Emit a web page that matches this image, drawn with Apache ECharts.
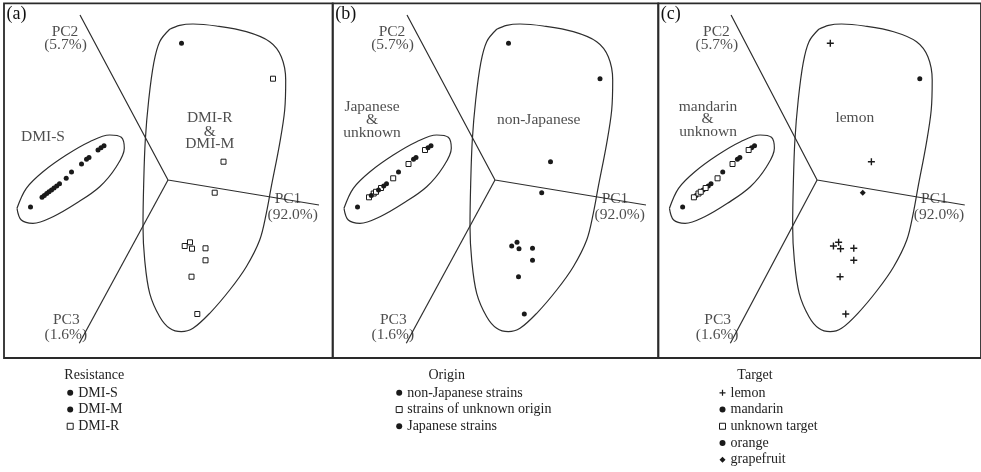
<!DOCTYPE html>
<html><head><meta charset="utf-8">
<script src="https://cdn.jsdelivr.net/npm/echarts@6/dist/echarts.min.js"></script>
<style>html,body{margin:0;padding:0;background:#fff}#c{width:981px;height:472px}</style>
</head><body><div id="c"></div>
<script>
// ---- DATA (PCA scores, arbitrary units, origin at axes junction, y up) ----
const pcScoreX = [13.5, 105, 55.5, 46.7, 16.7, 22, 24, 37.5, 37.5, 23.5, 29.3,
  -137.5, -126, -123.7, -121.3, -119, -116.5, -114, -111.3, -108.5, -101.8, -96.5, -86.5, -81.5, -79, -70, -67, -64];
const pcScoreY = [136.7, 101.3, 18.3, -12.7, -66, -62.3, -68.7, -68.3, -80.3, -96.7, -134,
  -27, -17.3, -15.5, -13.5, -11.8, -10, -8, -6, -3.8, 1.7, 8, 16, 20.8, 22.5, 30, 32.3, 34.3];
const resistanceOf = ['DMI-M','DMI-R','DMI-R','DMI-R','DMI-R','DMI-R','DMI-R','DMI-R','DMI-R','DMI-R','DMI-R',
  'DMI-S','DMI-S','DMI-S','DMI-S','DMI-S','DMI-S','DMI-S','DMI-S','DMI-S','DMI-S','DMI-S','DMI-S','DMI-S','DMI-S','DMI-S','DMI-S','DMI-S'];
const originOf = ['non-Japanese strains','non-Japanese strains','non-Japanese strains','non-Japanese strains','non-Japanese strains','non-Japanese strains','non-Japanese strains','non-Japanese strains','non-Japanese strains','non-Japanese strains','non-Japanese strains',
  'Japanese strains','strains of unknown origin','Japanese strains','strains of unknown origin','strains of unknown origin','Japanese strains','strains of unknown origin','Japanese strains','Japanese strains','strains of unknown origin','Japanese strains','strains of unknown origin','Japanese strains','Japanese strains','strains of unknown origin','Japanese strains','Japanese strains'];
const targetOf = ['lemon','orange','lemon','grapefruit','lemon','lemon','lemon','lemon','lemon','lemon','lemon',
  'mandarin','unknown target','mandarin','unknown target','unknown target','mandarin','unknown target','mandarin','mandarin','unknown target','mandarin','unknown target','mandarin','mandarin','unknown target','mandarin','mandarin'];

const resistanceClasses = ['DMI-S','DMI-M','DMI-R'];
const originClasses = ['non-Japanese strains','strains of unknown origin','Japanese strains'];
const targetClasses = ['lemon','mandarin','unknown target','orange','grapefruit'];

// principal component axes
const pcNames = ['PC1','PC2','PC3'];
const pcVariance = ['(92.0%)','(5.7%)','(1.6%)'];
const pcAxisEndX = [151, -88, -88.7];
const pcAxisEndY = [-25, 165, -163.3];

// group outlines
const blobX = [1.7,11.7,25,48.3,78.3,101.7,113.3,117.7,116.7,111.7,103.3,98.3,91.7,78.3,61.7,41.7,25,13.3,1.7,-8.3,-18.3,-23.3,-25,-24.3,-22.7,-19.3,-14.3,-8.3,1.7];
const blobY = [150.7,154.7,156,154,148.3,138.3,123.3,100,70,36.7,-6.7,-33.3,-60,-86.7,-110,-133.3,-148.3,-151.7,-148.3,-136.7,-113.3,-80,-46.7,-3.3,40,80,116.7,138.3,150.7];
const ellipseX = [-151,-146.7,-135,-115,-91.7,-68.3,-51.7,-43.7,-46.7,-58.3,-78.3,-101.7,-125,-141.7,-151];
const ellipseY = [-28.3,-40,-43.3,-36.7,-23.3,-6.7,13.3,31.7,42.7,45,38.3,25,8.3,-8.3,-28.3];

// ---- STYLE / LAYOUT ----
const INK = '#1a1a1a';
const FONT = '"Liberation Serif", "Times New Roman", serif';
const plusPath = 'path://M4,0H6V4H10V6H6V10H4V6H0V4H4Z';
const markStyle = {
  'DMI-S': {symbol:'circle', size:5, color:INK},
  'DMI-M': {symbol:'circle', size:5, color:INK},
  'DMI-R': {symbol:'rect', size:5, color:'#fff', border:INK},
  'non-Japanese strains': {symbol:'circle', size:5, color:INK},
  'strains of unknown origin': {symbol:'rect', size:5, color:'#fff', border:INK},
  'Japanese strains': {symbol:'circle', size:5, color:INK},
  'lemon': {symbol:plusPath, size:7, color:INK},
  'mandarin': {symbol:'circle', size:5, color:INK},
  'unknown target': {symbol:'rect', size:5, color:'#fff', border:INK},
  'orange': {symbol:'circle', size:5, color:INK},
  'grapefruit': {symbol:'diamond', size:6, color:INK}
};
const pcLabelPos = [[[120,-19.3],[124.7,-35]], [[-103,148.3],[-102.5,135]], [[-101.7,-140],[-102.2,-155]]];

const panels = [
  {letter:'(a)', left:4, width:328.7, xMin:-164, xMax:164.7, classes:resistanceClasses, classOf:resistanceOf,
   notes:[[-125,43.3,'DMI-S'],[41.7,61.7,'DMI-R'],[41.7,48.3,'&'],[41.7,35.7,'DMI-M']],
   legendTitle:'Resistance', titleX:94.3, legendLeft:66.7},
  {letter:'(b)', left:332.7, width:325.6, xMin:-162.3, xMax:163.3, classes:originClasses, classOf:originOf,
   notes:[[-123,73.3,'Japanese'],[-123,60,'&'],[-123,46.7,'unknown'],[43.7,60,'non-Japanese']],
   legendTitle:'Origin', titleX:446.7, legendLeft:395.7},
  {letter:'(c)', left:658.3, width:330, xMin:-162.4, xMax:167.6, classes:targetClasses, classOf:targetOf,
   notes:[[-111.5,73.3,'mandarin'],[-112,61,'&'],[-111.5,48.3,'unknown'],[38.5,61.7,'lemon']],
   legendTitle:'Target', titleX:755, legendLeft:719}
];
const GRID_TOP = 3.3, GRID_H = 354.7, Y_MIN = -178, Y_MAX = 176.7;

const grid = [], xAxis = [], yAxis = [], series = [], legend = [], graphic = [];
const zip = (xs, ys) => xs.map((x, i) => [x, ys[i]]);

panels.forEach((p, i) => {
  grid.push({left:p.left, top:GRID_TOP, width:p.width, height:GRID_H, show:true,
    borderColor:'#2a2a2a', borderWidth:1.8, backgroundColor:'transparent'});
  xAxis.push({type:'value', gridIndex:i, min:p.xMin, max:p.xMax, show:false});
  yAxis.push({type:'value', gridIndex:i, min:Y_MIN, max:Y_MAX, show:false});
  const base = {xAxisIndex:i, yAxisIndex:i, silent:true, animation:false};
  const outline = {color:'#2e2e2e', width:1.2};
  series.push(Object.assign({type:'line', data:zip(blobX, blobY), smooth:0.35, symbol:'none', lineStyle:outline, z:1}, base));
  series.push(Object.assign({type:'line', data:zip(ellipseX, ellipseY), smooth:0.35, symbol:'none', lineStyle:outline, z:1}, base));
  series.push(Object.assign({type:'line', data:[[pcAxisEndX[1], pcAxisEndY[1]], [0,0], [pcAxisEndX[0], pcAxisEndY[0]]],
    symbol:'none', lineStyle:outline, z:1}, base));
  series.push(Object.assign({type:'line', data:[[0,0], [pcAxisEndX[2], pcAxisEndY[2]]],
    symbol:'none', lineStyle:outline, z:1}, base));
  // text annotations
  const notes = p.notes.map(n => ({name:n[2], value:[n[0], n[1]]}));
  pcNames.forEach((nm, k) => {
    notes.push({name:nm, value:pcLabelPos[k][0]});
    notes.push({name:pcVariance[k], value:pcLabelPos[k][1]});
  });
  series.push(Object.assign({type:'scatter', data:notes, symbol:'circle', symbolSize:1,
    itemStyle:{color:'transparent'}, z:3,
    label:{show:true, position:'inside', formatter:'{b}', color:'#222', fontFamily:FONT, fontSize:15.5}}, base));
  // points
  p.classes.forEach(cls => {
    const st = markStyle[cls];
    const pts = [];
    p.classOf.forEach((c, k) => { if (c === cls) pts.push([pcScoreX[k], pcScoreY[k]]); });
    series.push(Object.assign({type:'scatter', name:cls, data:pts, symbol:st.symbol, symbolSize:st.size, z:4,
      itemStyle:{color:st.color, borderColor:st.border || st.color, borderWidth:st.border ? 1 : 0, opacity:1}}, base));
  });
  legend.push({orient:'vertical', left:p.legendLeft, top:384.5, padding:0, itemGap:0, itemWidth:6, itemHeight:6,
    selectedMode:false,
    textStyle:{fontFamily:FONT, fontSize:14, color:'#222', lineHeight:16.7},
    data:p.classes.map(cls => {
      const st = markStyle[cls];
      return {name:cls, icon:st.symbol,
        itemStyle:{color:st.color, borderColor:st.border || st.color, borderWidth:st.border ? 1 : 0}};
    })});
  graphic.push({type:'text', x:p.titleX, y:375, silent:true,
    style:{text:p.legendTitle, fill:'#222', font:'14px ' + FONT, align:'center', verticalAlign:'middle', textAlign:'center', textVerticalAlign:'middle'}});
  graphic.push({type:'text', x:p.left + 2.5, y:5, silent:true,
    style:{text:p.letter, fill:'#111', font:'18px ' + FONT, align:'left', verticalAlign:'top', textAlign:'left', textVerticalAlign:'top'}});
});

const chart = echarts.init(document.getElementById('c'), null, {renderer:'canvas'});
chart.setOption({backgroundColor:'#fff', animation:false, grid, xAxis, yAxis, series, legend, graphic});
</script></body></html>
